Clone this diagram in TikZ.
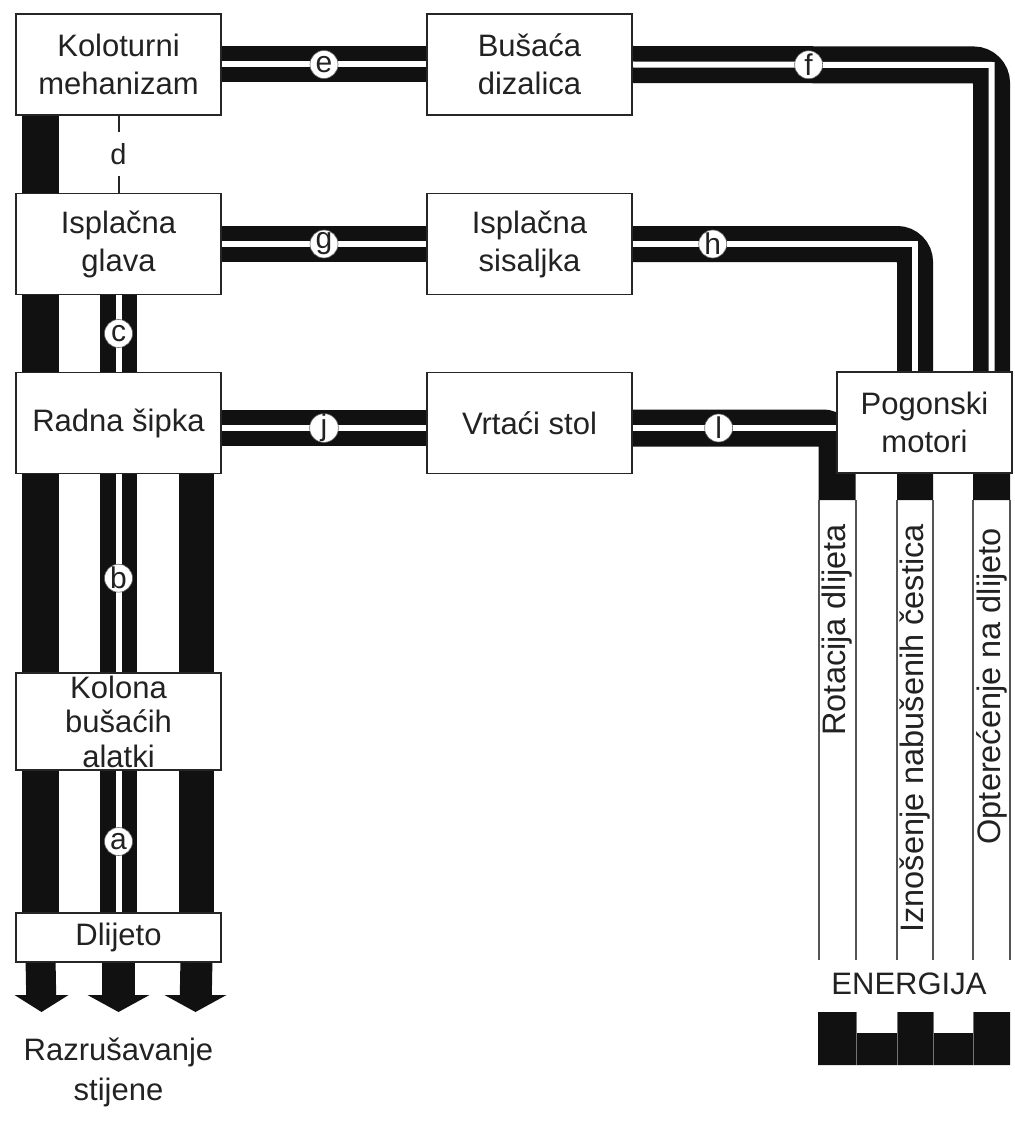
\documentclass[tikz,border=0pt]{standalone}
\usepackage{fontspec}
\setmainfont{Liberation Sans}
\usetikzlibrary{calc}
\pgfdeclarelayer{bg}
\pgfsetlayers{bg,main}
\definecolor{ink}{HTML}{111111}
\definecolor{txt}{HTML}{222222}
\definecolor{rulec}{HTML}{555555}
\begin{document}
\begin{tikzpicture}[x=1pt,y=-1pt,
  box/.style={draw=black!85, line width=1.8pt, fill=white, text=txt, inner sep=0pt,
    align=center, font=\fontsize{31}{38}\selectfont},
  bigbox/.style={box, minimum width=205pt, minimum height=101pt},
  band/.style={draw=ink, line width=36pt},
  wline/.style={draw=white, line width=6pt},
  lab/.style={circle, fill=white, draw=black!60, line width=0.6pt, inner sep=0pt,
    minimum size=28pt, font=\fontsize{30}{30}\selectfont, text=txt},
  striprule/.style={draw=rulec, line width=1.5pt},
  vtxt/.style={rotate=90, anchor=east, inner sep=0pt, font=\fontsize{32.5}{32.5}\selectfont, text=txt},
  shaft/.style={draw=ink, line width=31pt, shorten >=16pt},
  plain/.style={font=\fontsize{31}{40}\selectfont, text=txt, align=center}
]
\useasboundingbox (0,0) rectangle (1014,1137);

% boxes
\node[bigbox] (kol) at (118.5,64.5) {Koloturni\\mehanizam};
\node[bigbox] (bus) at (529.5,64.5) {Bušaća\\dizalica};
\node[bigbox] (isg) at (118.5,244) {Isplačna\\glava};
\node[bigbox] (iss) at (529.5,244) {Isplačna\\sisaljka};
\node[bigbox] (rad) at (118.5,423) {Radna šipka};
\node[bigbox] (vrt) at (529.5,423) {Vrtaći stol};
\node[box, minimum width=175pt, minimum height=101pt] (mot) at (924.5,422.5) {Pogonski\\motori};
\node[box, minimum width=205pt, minimum height=97pt, font=\fontsize{31}{34.5}\selectfont] (kbo) at (118.5,721.5) {Kolona\\bušaćih\\alatki};
\node[box, minimum width=205pt, minimum height=49pt] (dli) at (118.5,937.5) {Dlijeto};

% coordinates for right side
\coordinate (fc) at (991.5,65);
\coordinate (r3) at (991.5,500);
\coordinate (hc) at (915,244);
\coordinate (r2) at (915,500);
\coordinate (lc) at (837,428);
\coordinate (r1) at (837,500);

\begin{pgfonlayer}{bg}
\fill[white] (0,0) rectangle (1014,1137);
% left vertical bars
\draw[band, line width=37pt] ([xshift=25.5pt]kol.south west) -- ([xshift=25.5pt]dli.north west);
\draw[band, line width=37pt] (isg.south) -- (dli.north);
\draw[band, line width=35pt] ([xshift=-25.5pt]rad.south east) -- ([xshift=-25.5pt]dli.north east);
% horizontal bands
\draw[band] (kol.east) -- (bus.west);
\draw[band] (isg.east) -- (iss.west);
\draw[band] ([yshift=-5pt]rad.east) -- ([yshift=-5pt]vrt.west);
\draw[band, line width=37pt, rounded corners=18pt] (bus.east) -- (fc) -- (r3);
\draw[band, rounded corners=18pt] (iss.east) -- (hc) -- (r2);
\draw[band, line width=37pt, rounded corners=14pt] ([yshift=-5pt]vrt.east) -- (lc) -- (r1);
% white centre lines with labels
\draw[wline] (kol.east) -- node[lab]{e} (bus.west);
\draw[wline] (isg.east) -- node[lab]{g} (iss.west);
\draw[wline] ([yshift=-5pt]rad.east) -- node[lab]{j} ([yshift=-5pt]vrt.west);
\draw[wline] (bus.east) -- node[lab, pos=0.49]{f} (fc) -- (fc |- mot.north);
\draw[wline] (iss.east) -- node[lab, pos=0.283]{h} (hc) -- (hc |- mot.north);
\draw[wline] ([yshift=-5pt]vrt.east) -- node[lab, pos=0.42]{l} (lc);
\draw[wline] (isg.south) -- node[lab]{c} (rad.north);
\draw[wline] (rad.south) -- node[lab, pos=0.525]{b} (kbo.north);
\draw[wline] (kbo.south) -- node[lab]{a} (dli.north);
% outline strips below the motors
\foreach \xa/\xb in {819/856, 897/933, 973/1010}{
  \draw[striprule] (\xa,500) -- (\xa,960);
  \draw[striprule] (\xb,500) -- (\xb,960);
}
\end{pgfonlayer}

% d connector
\draw[black!85, line width=2pt] (kol.south) -- node[fill=white, inner sep=0pt, minimum height=44pt, minimum width=22pt, font=\fontsize{29}{29}\selectfont, text=txt]{d} (isg.north);

% arrows to rock destruction
\node[plain] (raz) at (118.5,1072) {Razrušavanje\\stijene};
\coordinate (p1) at (41.5,1012);
\coordinate (p2) at (118.5,1012);
\coordinate (p3) at (195.5,1012);
\draw[shaft, line width=30pt] ([xshift=25.5pt]dli.south west) -- (p1);
\draw[shaft, line width=33pt] (dli.south) -- (p2);
\draw[shaft, line width=32pt] ([xshift=-25.5pt]dli.south east) -- (p3);
\fill[ink] (p1) -- ++(-27,-17) -- ++(54,0) -- cycle;
\fill[ink] (p2) -- ++(-31,-17) -- ++(62,0) -- cycle;
\fill[ink] (p3) -- ++(-31,-17) -- ++(62,0) -- cycle;

% strip texts
\node[vtxt] (t1) at (837.5,524) {Rotacija dlijeta};
\node[vtxt] (t2) at (915,524) {Iznošenje nabušenih čestica};
\node[vtxt] (t3) at (991.5,528) {Opterećenje na dlijeto};

% energy
\node[plain] (en) at (909,984) {ENERGIJA};
\fill[ink] (818,1012) -- (856,1012) -- (856,1033) -- (897,1033) -- (897,1012) -- (933,1012)
  -- (933,1033) -- (973,1033) -- (973,1012) -- (1010,1012) -- (1010,1065) -- (818,1065) -- cycle;
\foreach \xx/\yy in {856/1012, 897/1012, 933/1012, 973/1012}{
  \draw[black!55, line width=0.8pt] (\xx,\yy) -- (\xx,1065);
}
\end{tikzpicture}
\end{document}
